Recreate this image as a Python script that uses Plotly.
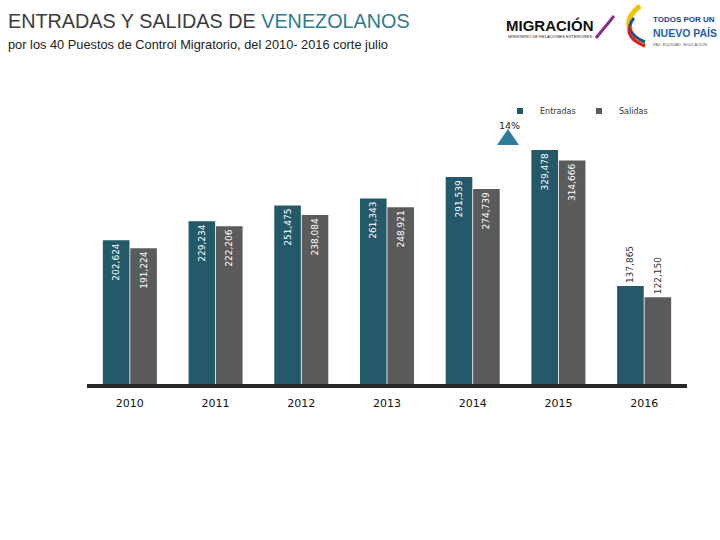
import plotly.graph_objects as go

years = ["2010", "2011", "2012", "2013", "2014", "2015", "2016"]
entradas = [202624, 229234, 251475, 261343, 291539, 329478, 137865]
salidas = [191224, 222206, 238084, 248921, 274739, 314666, 122150]
entradas_labels = ["202,624", "229,234", "251,475", "261,343", "291,539", "329,478", "137,865"]
salidas_labels = ["191,224", "222,206", "238,084", "248,921", "274,739", "314,666", "122,150"]

C_ENT = "#245969"
C_SAL = "#5b5b5b"

pos = ["inside"] * 6 + ["outside"]

fig = go.Figure()
for name, vals, labels, col in [("Entradas", entradas, entradas_labels, C_ENT),
                                ("Salidas", salidas, salidas_labels, C_SAL)]:
    fig.add_trace(go.Bar(
        name=name, x=years, y=vals, text=labels, showlegend=False,
        marker=dict(color=col, line=dict(width=0)),
        textposition=pos, textangle=-90, insidetextanchor="end",
        insidetextfont=dict(color="white", size=9, family="DejaVu Sans"),
        outsidetextfont=dict(color="#333333", size=9, family="DejaVu Sans"),
        cliponaxis=False, hoverinfo="x+y",
    ))
# legend entries with small square symbols
for name, col in [("Entradas", C_ENT), ("Salidas", C_SAL)]:
    fig.add_trace(go.Scatter(
        x=[None], y=[None], mode="markers", name=name,
        marker=dict(symbol="square", size=6, color=col),
    ))

L, R, T, B = 87, 33, 100, 156
PW, PH = 720 - L - R, 540 - T - B

def px(x):
    return (x - L) / PW

def py(y):
    return (540 - B - y) / PH

fig.update_layout(
    width=720, height=540,
    margin=dict(l=L, r=R, t=T, b=B, autoexpand=False),
    paper_bgcolor="white", plot_bgcolor="white",
    barmode="group", bargap=0.36, bargroupgap=0.03,
    uniformtext=dict(minsize=8, mode="show"),
    showlegend=True,
    legend=dict(orientation="h", xref="container", yref="container",
                x=500/720, y=1 - 111/540, xanchor="left", yanchor="middle",
                font=dict(size=8, color="#333333", family="DejaVu Sans"),
                entrywidth=34, itemwidth=30, bgcolor="rgba(0,0,0,0)"),
    font=dict(family="Liberation Sans, sans-serif"),
)
fig.update_xaxes(
    showline=True, linecolor="#262626", linewidth=4, showgrid=False,
    ticks="", ticklabelstandoff=6,
    tickfont=dict(size=11, color="#111111", family="DejaVu Sans"),
    range=[-0.5, 6.5],
)
fig.update_yaxes(visible=False, range=[0, 400000], showgrid=False)

# Title & subtitle
fig.add_annotation(
    xref="paper", yref="paper", x=px(6), y=py(21), xanchor="left", yanchor="middle",
    text="ENTRADAS Y SALIDAS DE <span style='color:#2f7c8e'>VENEZOLANOS</span>",
    showarrow=False, font=dict(size=19.8, color="#3b3b3b", family="Liberation Sans"),
)
fig.add_annotation(
    xref="paper", yref="paper", x=px(6), y=py(45), xanchor="left", yanchor="middle",
    text="por los 40 Puestos de Control Migratorio, del 2010- 2016 corte julio",
    showarrow=False, font=dict(size=12.8, color="#222222", family="Liberation Sans"),
)

# Logos (text approximations)
fig.add_annotation(
    xref="paper", yref="paper", x=px(504), y=py(25), xanchor="left", yanchor="middle",
    text="<b>MIGRACIÓN</b>", showarrow=False,
    font=dict(size=15, color="#111111", family="Liberation Sans"),
)
fig.add_annotation(
    xref="paper", yref="paper", x=px(506), y=py(37), xanchor="left", yanchor="middle",
    text="MINISTERIO DE RELACIONES EXTERIORES", showarrow=False,
    font=dict(size=4, color="#222222", family="Liberation Sans"),
)
fig.add_annotation(
    xref="paper", yref="paper", x=px(651), y=py(19), xanchor="left", yanchor="middle",
    text="<b>TODOS POR UN</b>", showarrow=False,
    font=dict(size=8, color="#1d3f8f", family="Liberation Sans"),
)
fig.add_annotation(
    xref="paper", yref="paper", x=px(651), y=py(33), xanchor="left", yanchor="middle",
    text="<b>NUEVO PAÍS</b>", showarrow=False,
    font=dict(size=10.5, color="#1d5fb0", family="Liberation Sans"),
)
fig.add_annotation(
    xref="paper", yref="paper", x=px(651), y=py(44), xanchor="left", yanchor="middle",
    text="PAZ  EQUIDAD  EDUCACIÓN", showarrow=False,
    font=dict(size=4, color="#555555", family="Liberation Sans"),
)
# Colombia swoosh
fig.add_shape(type="path", xref="paper", yref="paper",
              path="M %f %f Q %f %f %f %f" % (px(640), py(6), px(615), py(25), px(645), py(46)),
              line=dict(color="#f2c200", width=5))
fig.add_shape(type="path", xref="paper", yref="paper",
              path="M %f %f Q %f %f %f %f" % (px(634), py(18), px(622), py(32), px(645), py(42)),
              line=dict(color="#1f4fa0", width=3))
fig.add_shape(type="path", xref="paper", yref="paper",
              path="M %f %f Q %f %f %f %f" % (px(630), py(26), px(625), py(38), px(645), py(46)),
              line=dict(color="#d2232a", width=3))
# Migración slash stroke
fig.add_shape(type="path", xref="paper", yref="paper",
              path="M %f %f L %f %f" % (px(596), py(38), px(614), py(16)),
              line=dict(color="#8a2b8f", width=3))

# 14% indicator
fig.add_shape(type="path", xref="paper", yref="paper",
              path="M %f %f L %f %f L %f %f Z" % (px(497), py(145), px(508), py(129), px(519), py(145)),
              fillcolor="#2e7d9b", line=dict(width=0))
fig.add_annotation(
    xref="paper", yref="paper", x=px(509), y=py(125), xanchor="center", yanchor="middle",
    text="14%", showarrow=False, font=dict(size=9.5, color="#222222", family="DejaVu Sans"),
)

fig.write_html("out.html", config={"displayModeBar": False},
               post_script="document.body.style.margin='0';document.body.style.overflow='hidden';")
